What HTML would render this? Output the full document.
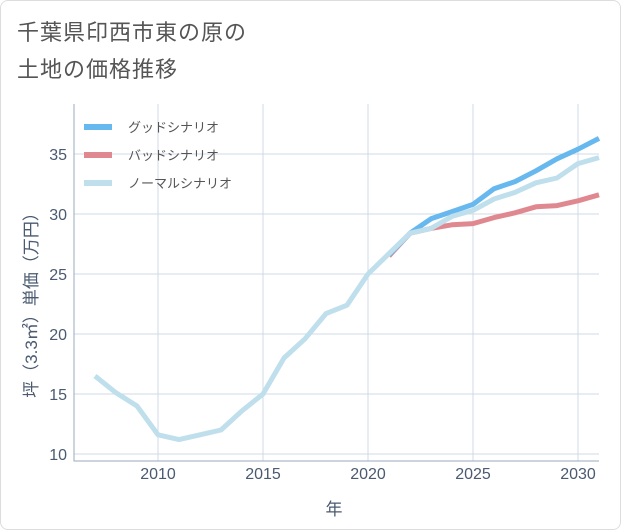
<!DOCTYPE html>
<html><head><meta charset="utf-8"><style>
body{margin:0;background:#fff;font-family:"Liberation Sans","Noto Sans CJK JP",sans-serif;}
#wrap{position:relative;width:619px;height:528px;border:1px solid #ddd;border-radius:8px;background:#fff;overflow:hidden}
#title{position:absolute;left:16px;top:13px;font-size:22px;line-height:37px;color:#555;letter-spacing:1px}
</style></head><body>
<div id="wrap">
<div id="title">千葉県印西市東の原の<br>土地の価格推移</div>
<svg id="chart" width="621" height="530" style="position:absolute;left:0;top:0"></svg>
</div>
<script>
const years=[2007,2008,2009,2010,2011,2012,2013,2014,2015,2016,2017,2018,2019,2020,2021,2022,2023,2024,2025,2026,2027,2028,2029,2030,2031];
const normal=[16.5,15.1,14.0,11.6,11.2,11.6,12.0,13.6,15.0,18.0,19.6,21.7,22.4,25.0,26.7,28.4,28.8,29.8,30.3,31.25,31.8,32.6,33.0,34.2,34.7];
const scenYears=[2021,2022,2023,2024,2025,2026,2027,2028,2029,2030,2031];
const good=[26.6,28.4,29.6,30.2,30.8,32.1,32.7,33.6,34.6,35.4,36.3];
const bad=[26.5,28.4,28.8,29.1,29.2,29.7,30.1,30.6,30.7,31.1,31.6];
const xTicks=[2010,2015,2020,2025,2030];
const yTicks=[10,15,20,25,30,35];
const NS='http://www.w3.org/2000/svg';
const svg=document.getElementById('chart');
const L=73,R=598,T=103,B=460;
const x=v=>L+(v-2006)*(R-L)/25;
const y=v=>453-(v-10)*12;
function mk(tag,attrs,parent){const e=document.createElementNS(NS,tag);for(const k in attrs)e.setAttribute(k,attrs[k]);(parent||svg).appendChild(e);return e;}
xTicks.forEach(t=>{
 const g=mk('line',{x1:x(t),x2:x(t),y1:T,y2:B,stroke:'#cfdbe6','stroke-width':1});
 
 
 const tx=mk('text',{x:x(t),y:478,'text-anchor':'middle','font-size':16,fill:'#4a5a70'});
 tx.textContent=t;
 
 
});
yTicks.forEach(t=>{
 const g=mk('line',{x1:L,x2:R,y1:y(t),y2:y(t),stroke:'#cfdbe6','stroke-width':1});
 
 
 const tx=mk('text',{x:66,y:y(t)+6,'text-anchor':'end','font-size':16,fill:'#4a5a70'});
 tx.textContent=t;
 
 
});
const ax=mk('path',{d:`M${L},${T}V${B}H${R}`,fill:'none',stroke:'#9aabbd','stroke-width':1});


function line(xs,vs,color,name){
 const p=mk('polyline',{points:xs.map((v,i)=>x(v)+','+y(vs[i])).join(' '),fill:'none',stroke:color,'stroke-width':5,'stroke-linejoin':'round'});
 
 
}
line(scenYears,bad,'#e08890','bad-scenario-line');
line(scenYears,good,'#66b8ee','good-scenario-line');
line(years,normal,'#bfdfec','normal-scenario-line');
const leg=[['グッドシナリオ','#66b8ee'],['バッドシナリオ','#e08890'],['ノーマルシナリオ','#bfdfec']];
leg.forEach((l,i)=>{
 const yy=126+i*28;
 const s=mk('line',{x1:83,x2:111,y1:yy,y2:yy,stroke:l[1],'stroke-width':6});
 
 
 const t=mk('text',{x:127,y:yy+5,'font-size':13,fill:'#555'});
 t.textContent=l[0];
 
 
});
const xt=mk('text',{x:333,y:514,'text-anchor':'middle','font-size':17,fill:'#4a5a70'});
xt.textContent='年';


const yt=mk('text',{x:0,y:0,'text-anchor':'middle','font-size':17,fill:'#4a5a70',transform:'translate(36,300) rotate(-90)'});
yt.textContent='坪（3.3㎡）単価（万円）';


</script>
</body></html>
